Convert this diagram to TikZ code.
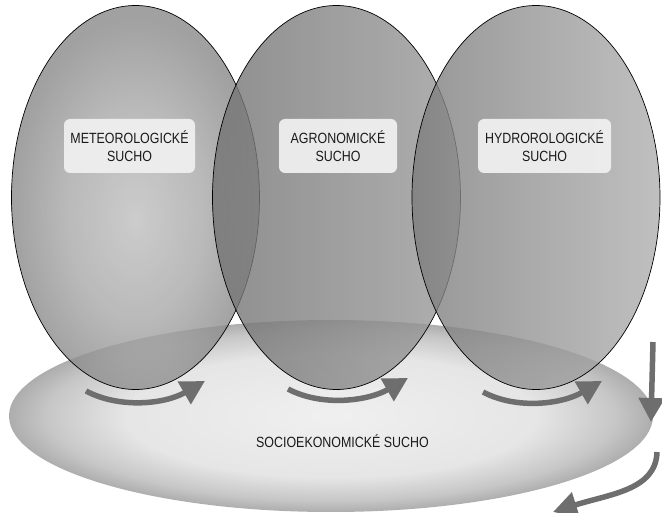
\documentclass[tikz,border=0pt]{standalone}
\usepackage{fontspec}
\newfontfamily\cond[FakeStretch=0.84]{Liberation Sans}
\usetikzlibrary{shapes.geometric,arrows.meta}
\definecolor{arrowgray}{HTML}{6E6E6E}
\definecolor{boxfill}{HTML}{EFEFEF}
\definecolor{txt}{HTML}{1A1A1A}
\pgfdeclareradialshading{basesh}{\pgfpoint{0bp}{0bp}}{color(0bp)=(black!6); color(16bp)=(black!10); color(22bp)=(black!22); color(25bp)=(black!32); color(50bp)=(black!32)}
\pgfdeclareradialshading{lobesh}{\pgfpoint{0bp}{-3bp}}{color(0bp)=(black!25); color(14bp)=(black!34); color(25bp)=(black!46); color(50bp)=(black!46)}
\tikzset{
  lobe/.style={ellipse, draw=black, line width=0.7pt, fill opacity=0.8,
     minimum width=248pt, minimum height=384pt, inner sep=0pt},
  labelbox/.style={rounded corners=6pt, fill=boxfill, fill opacity=0.95, text opacity=1,
     minimum height=54pt, align=center, text=txt, font=\cond\fontsize{14.8}{17.7}\selectfont, inner sep=0pt},
  flow/.style={draw=arrowgray, line width=5.5pt, -{Triangle[length=24pt,width=25pt]}},
}
\begin{document}
\begin{tikzpicture}[x=1pt,y=-1pt]
\useasboundingbox (0,0) rectangle (662,513);
\fill[white] (0,0) rectangle (662,513);
% base ellipse
\shade[shading=basesh] (331,416) ellipse [x radius=322, y radius=96];
\node[text=txt, font=\cond\fontsize{14.8}{17.7}\selectfont] (socio) at (342.5,441) {SOCIOEKONOMICKÉ SUCHO};
% lobes
\node[lobe, shading=lobesh] (met) at (135.5,197.5) {};
\node[lobe, left color=black!55, right color=black!39] (agr) at (336.5,197.5) {};
\node[lobe, left color=black!51, right color=black!31] (hyd) at (536,197.5) {};
% labels
\node[labelbox, minimum width=131pt] (metl) at (129.5,146) {METEOROLOGICKÉ\\SUCHO};
\node[labelbox, minimum width=118pt] (agrl) at (338,146) {AGRONOMICKÉ\\SUCHO};
\node[labelbox, minimum width=133pt] (hydl) at (544.5,146) {HYDROROLOGICKÉ\\SUCHO};
% arrow coordinates
\coordinate (a1s) at (86,391);  \coordinate (a1e) at (205,381);
\coordinate (a2s) at (288,389); \coordinate (a2e) at (408,378);
\coordinate (a3s) at (483,392); \coordinate (a3e) at (602,381);
\coordinate (vs) at (653,342);  \coordinate (ve) at (651,422);
\coordinate (bs) at (657,452);  \coordinate (be) at (553,512);
\draw[flow] (a1s) .. controls (120,409) and (165,404) .. (a1e);
\draw[flow] (a2s) .. controls (322,407) and (368,401) .. (a2e);
\draw[flow] (a3s) .. controls (517,410) and (562,404) .. (a3e);
\draw[flow] (vs) -- (ve);
\draw[flow] (bs) .. controls (656,490) and (610,494) .. (be);
\end{tikzpicture}
\end{document}
